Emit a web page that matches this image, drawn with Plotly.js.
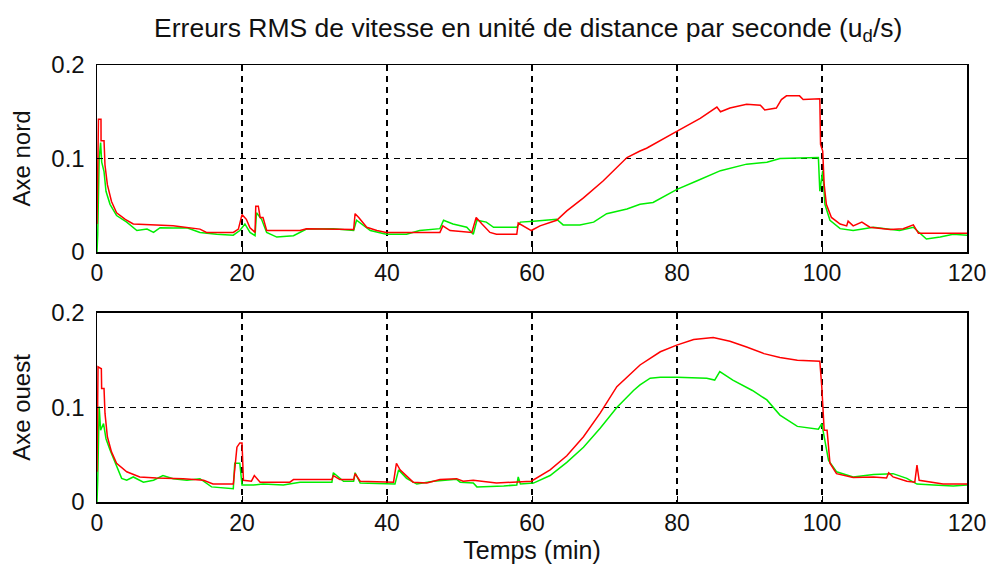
<!DOCTYPE html>
<html>
<head>
<meta charset="utf-8">
<script src="https://cdn.plot.ly/plotly-3.0.1.min.js"></script>
<style>html,body{margin:0;padding:0;background:#fff;}#chart{width:991px;height:576px;}</style>
</head>
<body>
<div id="chart"></div>
<script>
// Axe nord – rouge
const nordRougeT = [0,0.2,0.55,0.56,0.97,1.1,1.43,2.0,2.7,3.9,5.0,10.5,14.2,15.1,18.8,19.5,20,20.6,21.1,21.8,21.9,22.25,22.5,22.9,23.4,28,28.9,35.4,35.6,36.1,37.2,38.6,39.9,47.3,47.7,48.7,51.7,52.3,53.1,54.2,55.1,57.9,58.1,58.8,59.9,61.1,63.4,64.8,67.1,69.8,73.1,74.9,75.8,79.96,83.2,85.5,86.0,87.3,89.6,91.5,92.1,93.7,94.4,95.1,96.9,97.4,99.7,99.8,100.1,100.3,100.6,101.3,102.5,103.4,103.6,104.3,105.5,106.6,109.4,111.2,112.6,113.3,120];
const nordRougeV = [0.03,0.142,0.142,0.119,0.119,0.093,0.072,0.054,0.042,0.035,0.030,0.028,0.0245,0.021,0.021,0.0245,0.040,0.035,0.026,0.021,0.049,0.049,0.037,0.037,0.023,0.023,0.025,0.024,0.041,0.037,0.0265,0.023,0.021,0.021,0.028,0.023,0.021,0.037,0.030,0.021,0.019,0.019,0.031,0.028,0.023,0.028,0.034,0.044,0.058,0.076,0.101,0.108,0.111,0.129,0.143,0.155,0.150,0.154,0.158,0.157,0.152,0.154,0.163,0.167,0.167,0.163,0.164,0.115,0.108,0.072,0.051,0.037,0.030,0.028,0.033,0.028,0.032,0.0265,0.024,0.025,0.029,0.020,0.020];
// Axe nord – vert
const nordVertT = [0,0.1,0.3,0.5,0.65,0.97,1.24,1.8,2.7,4.1,5.5,6.9,7.8,8.7,10.5,12.4,14.2,16.5,18.8,19.7,20.4,21.1,21.8,22.0,22.7,23.4,24.8,27.1,28.9,32.6,35.4,35.8,37.7,39.9,42.7,44.5,47.3,47.8,49.1,51.0,51.9,52.4,53.7,54.7,57.9,58.4,60.2,63.4,64.3,66.6,68.5,70.3,73.1,74.9,76.7,80.0,82.7,86.0,89.6,92.4,94.2,97.9,99.5,99.7,100.1,100.4,101.1,102.5,104.3,107.1,110.7,112.6,114.4,116.3,118.1,120];
const nordVertV = [0,0.019,0.100,0.117,0.096,0.086,0.065,0.051,0.039,0.032,0.023,0.0245,0.021,0.026,0.0256,0.026,0.021,0.019,0.018,0.023,0.030,0.021,0.0175,0.042,0.035,0.021,0.016,0.0175,0.0245,0.025,0.023,0.034,0.023,0.019,0.019,0.023,0.025,0.034,0.030,0.0265,0.019,0.034,0.032,0.0265,0.0265,0.032,0.033,0.035,0.029,0.029,0.032,0.041,0.046,0.051,0.053,0.067,0.076,0.087,0.094,0.096,0.100,0.1007,0.101,0.065,0.087,0.051,0.034,0.025,0.023,0.0265,0.023,0.0265,0.014,0.016,0.019,0.018];
// Axe ouest – rouge
const ouestRougeT = [0,0.14,0.6,0.64,0.97,1.1,1.43,2.0,2.7,4.1,5.9,8.2,11.9,14.7,16.0,18.8,19.3,19.7,20,20.2,21.3,21.7,22.5,26.6,27.1,32.4,32.6,33.5,35.4,35.6,36.3,40.9,41.3,41.8,43.6,45.5,47.3,49.6,50.5,51.9,55.1,57.9,59.9,62.5,64.8,67.1,69.4,71.7,74.0,74.9,76.3,77.7,79.96,82.3,85.0,87.3,89.6,92.0,94.2,96.6,99.7,99.97,100.3,100.7,101.1,102.0,104.3,107.1,108.9,109.2,109.8,111.7,112.8,113.1,113.4,115.4,116.7,120];
const ouestRougeV = [0.032,0.143,0.141,0.120,0.120,0.094,0.069,0.053,0.041,0.032,0.0265,0.0254,0.0247,0.023,0.019,0.019,0.058,0.0625,0.0625,0.023,0.022,0.028,0.021,0.021,0.0237,0.0237,0.028,0.0237,0.0237,0.030,0.022,0.021,0.041,0.034,0.021,0.020,0.0237,0.0247,0.022,0.023,0.020,0.021,0.022,0.034,0.049,0.069,0.094,0.122,0.138,0.145,0.152,0.159,0.166,0.172,0.174,0.170,0.164,0.157,0.153,0.150,0.149,0.122,0.076,0.076,0.041,0.030,0.026,0.0265,0.0254,0.031,0.0265,0.022,0.021,0.039,0.023,0.021,0.019,0.019];
// Axe ouest – vert
const ouestVertT = [0,0.1,0.3,0.5,0.9,1.24,1.8,2.5,3.4,4.1,5.0,6.4,7.8,9.1,10.5,12.4,14.2,15.8,18.8,19.0,19.7,20,21.6,22.9,25.7,28.0,32.4,32.6,34.0,35.4,35.6,36.3,39.5,41.1,41.6,42.7,44.1,46.4,49.6,50.1,51.9,52.4,56.1,57.9,58.1,58.4,60.2,62.5,64.8,67.1,69.4,71.7,74.0,74.9,76.3,77.7,80.0,84.1,85.2,85.9,87.7,90.4,92.4,94.2,96.6,99.5,99.97,100.3,100.9,102.0,104.3,107.1,109.8,111.7,113.1,115.4,118.1,120];
const ouestVertV = [0,0.023,0.101,0.076,0.083,0.067,0.055,0.041,0.025,0.023,0.0265,0.021,0.023,0.028,0.0247,0.023,0.0247,0.016,0.014,0.041,0.041,0.018,0.018,0.019,0.018,0.021,0.021,0.031,0.022,0.022,0.031,0.020,0.019,0.019,0.034,0.025,0.019,0.022,0.024,0.021,0.020,0.016,0.017,0.018,0.0265,0.019,0.020,0.028,0.042,0.058,0.078,0.100,0.118,0.124,0.131,0.132,0.132,0.131,0.129,0.138,0.129,0.118,0.108,0.092,0.080,0.077,0.083,0.069,0.044,0.032,0.0265,0.029,0.030,0.025,0.019,0.018,0.017,0.018];

const xTicks = [0,20,40,60,80,100,120];
const yTicks = [0,0.1,0.2];
const yTickText = ['0','0.1','0.2'];

const FONT = 'Liberation Sans, Arial, sans-serif';
const RED = '#ff0000', GREEN = '#00ee00';

function line(x, y, color, xa, ya) {
  return {x: x, y: y, type: 'scatter', mode: 'lines', xaxis: xa, yaxis: ya,
          line: {color: color, width: 1.5}, hoverinfo: 'skip', showlegend: false};
}

const data = [
  line(nordVertT, nordVertV, GREEN, 'x', 'y'),
  line(nordRougeT, nordRougeV, RED, 'x', 'y'),
  line(ouestVertT, ouestVertV, GREEN, 'x2', 'y2'),
  line(ouestRougeT, ouestRougeV, RED, 'x2', 'y2')
];

function xax(anchor, title) {
  const a = {domain: [0, 1], anchor: anchor, range: [0, 120], tickvals: xTicks,
    showgrid: true, gridcolor: '#000', griddash: '6px,5px', gridwidth: 1.3,
    showline: true, mirror: 'ticks', linecolor: '#000', linewidth: 1.5,
    ticks: 'inside', ticklen: 6, tickcolor: '#000', zeroline: false,
    tickfont: {family: FONT, size: 23, color: '#111'}, automargin: false};
  if (title) a.title = {text: title, font: {family: FONT, size: 25, color: '#111'}, standoff: 4};
  return a;
}
function yax(anchor, domain, title) {
  return {domain: domain, anchor: anchor, range: [0, 0.2], tickvals: yTicks, ticktext: yTickText,
    showgrid: true, gridcolor: '#000', griddash: '6px,5px', gridwidth: 1.3,
    showline: true, mirror: 'ticks', linecolor: '#000', linewidth: 1.5,
    ticks: 'inside', ticklen: 6, tickcolor: '#000', zeroline: false,
    ticklabelstandoff: 6,
    tickfont: {family: FONT, size: 24, color: '#111'}, automargin: false,
    title: {text: title, font: {family: FONT, size: 24, color: '#111'}, standoff: 14}};
}

const layout = {
  width: 991, height: 576,
  margin: {l: 97, r: 24, t: 65, b: 74},
  paper_bgcolor: '#fff', plot_bgcolor: '#fff',
  title: {text: 'Erreurs RMS de vitesse en unité de distance par seconde (u<sub>d</sub>/s)',
          font: {family: FONT, size: 26.5, color: '#111'}, x: 0.533, xanchor: 'center', y: 0.952, yanchor: 'middle'},
  xaxis: xax('y', null),
  yaxis: yax('x', [0.572, 1], 'Axe nord'),
  xaxis2: xax('y2', 'Temps (min)'),
  yaxis2: yax('x2', [0, 0.4325], 'Axe ouest')
};

Plotly.newPlot('chart', data, layout, {displayModeBar: false, staticPlot: true});
</script>
</body>
</html>
